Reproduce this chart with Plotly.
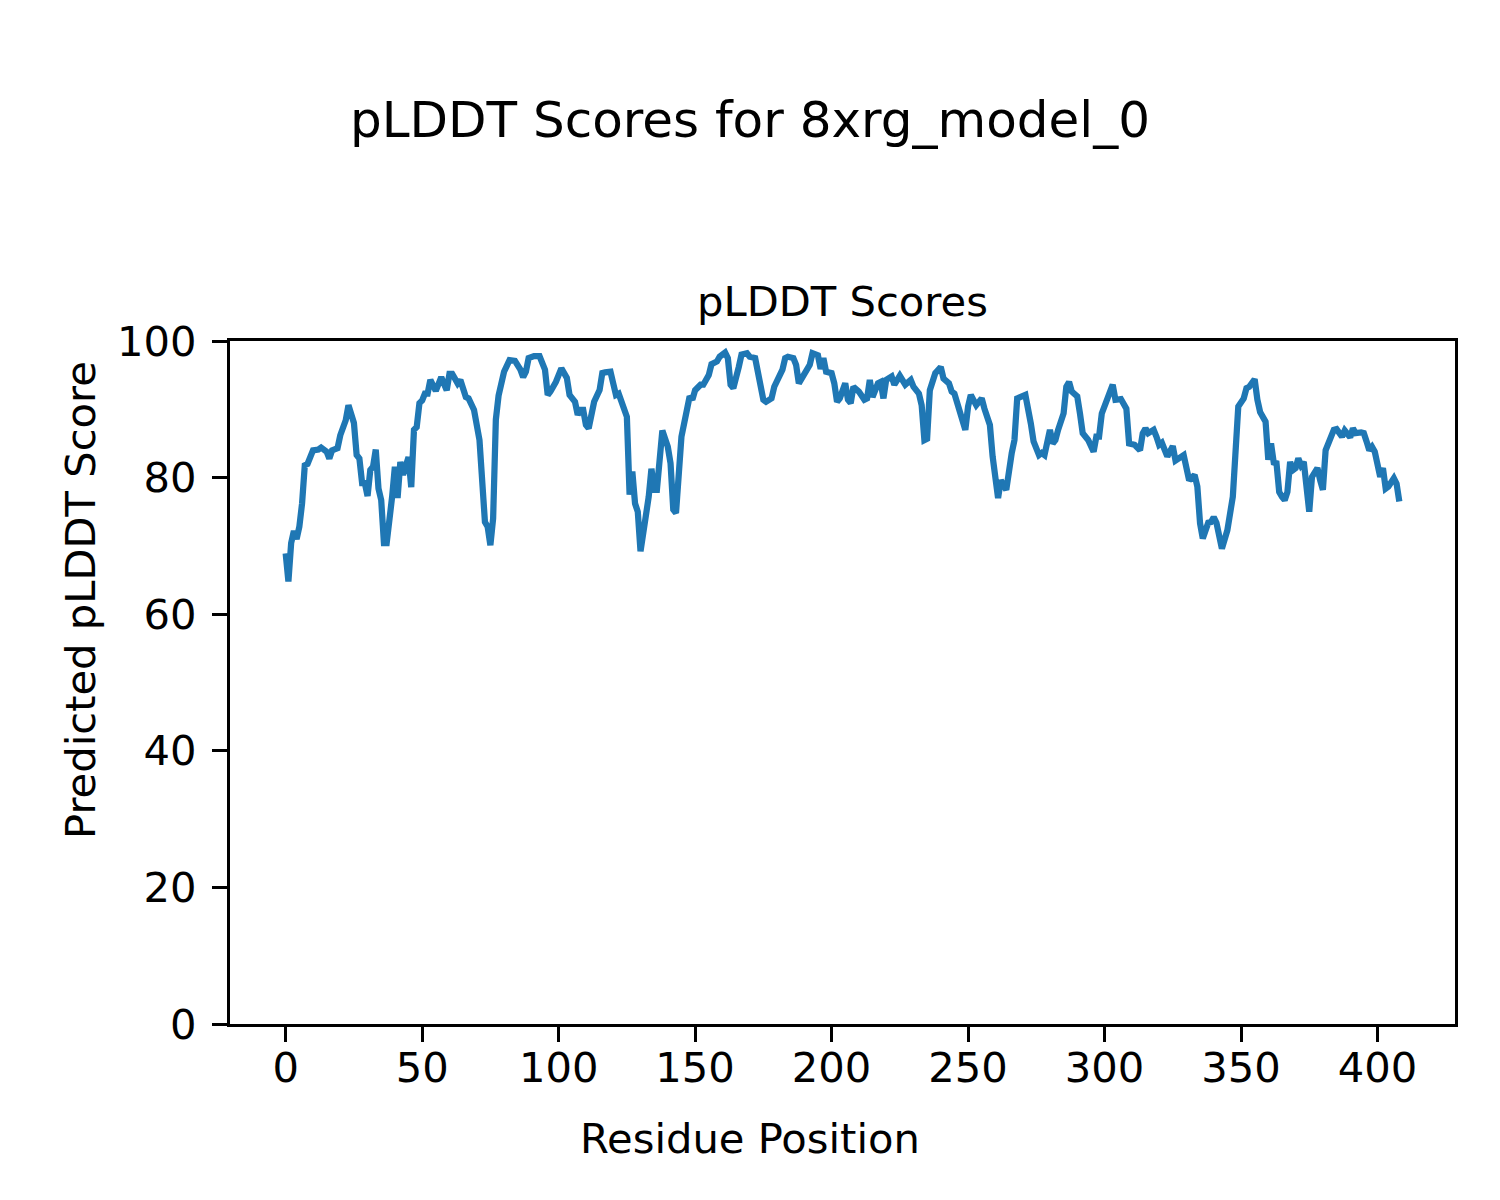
import plotly.graph_objects as go

# Residue positions (vertices) and pLDDT scores
residues = [0, 1, 2, 3, 4, 5, 6, 7, 8, 9, 10, 12, 13, 15, 16, 17, 19, 20, 22, 23,
            24, 25, 26, 27, 28, 29, 30, 31, 32, 33, 34, 35, 36, 37, 39, 40, 41, 42, 43, 45,
            46, 47, 48, 49, 50, 51, 52, 53, 55, 57, 59, 60, 61, 63, 64, 66, 67, 69, 71, 72,
            73, 74, 75, 76, 77, 78, 80, 82, 84, 86, 87, 88, 89, 91, 92, 93, 95, 96, 97, 99,
            101, 103, 104, 106, 107, 108, 109, 110, 111, 113, 115, 116, 117, 119, 120, 121, 122, 125, 126, 127,
            128, 129, 130, 131, 132, 133, 134, 135, 136, 137, 138, 140, 141, 142, 143, 145, 147, 148, 149, 150,
            152, 153, 155, 156, 158, 159, 161, 162, 163, 164, 166, 167, 169, 170, 172, 173, 175, 176, 178, 179,
            180, 182, 183, 184, 186, 187, 188, 190, 192, 193, 195, 196, 197, 198, 200, 201, 202, 203, 205, 206,
            207, 208, 210, 212, 213, 214, 215, 217, 218, 219, 220, 222, 223, 225, 227, 229, 230, 232, 233, 234,
            235, 236, 238, 240, 241, 243, 244, 245, 247, 248, 249, 250, 251, 253, 255, 256, 257, 258, 259, 261,
            262, 264, 266, 267, 268, 270, 271, 273, 274, 276, 277, 278, 280, 281, 282, 283, 285, 286, 287, 288,
            290, 291, 292, 294, 296, 297, 298, 299, 301, 303, 304, 306, 308, 309, 311, 313, 314, 315, 316, 318,
            319, 320, 321, 323, 325, 326, 329, 330, 331, 333, 334, 335, 336, 338, 339, 340, 341, 343, 344, 345,
            347, 348, 349, 351, 352, 353, 354, 355, 356, 357, 359, 360, 361, 362, 363, 364, 365, 366, 367, 368,
            369, 370, 371, 372, 373, 374, 375, 376, 377, 378, 379, 380, 381, 383, 384, 385, 387, 388, 390, 391,
            392, 394, 395, 396, 397, 398, 399, 401, 402, 403, 404, 406, 407, 408]

scores = [68.9, 64.8, 70.4, 72.2, 71.0, 72.8, 76.2, 81.8, 82.0, 83.3, 84.0, 84.1, 84.4, 83.8, 82.8, 84.0, 84.3, 86.2, 88.4, 90.6,
          89.6, 88.0, 83.3, 82.8, 79.2, 79.2, 77.3, 81.1, 81.6, 84.1, 78.4, 76.7, 70.4, 70.4, 77.2, 81.6, 77.0, 82.3, 80.4, 83.0,
          78.6, 87.0, 87.4, 90.9, 91.3, 92.3, 92.3, 94.3, 92.7, 94.7, 92.8, 95.2, 95.2, 93.8, 94.3, 91.8, 91.6, 89.9, 85.5, 80.1,
          73.5, 72.8, 70.1, 74.0, 88.5, 92.0, 95.5, 97.2, 97.1, 95.8, 94.7, 95.5, 97.5, 97.8, 97.7, 97.8, 95.8, 92.1, 92.6, 94.0,
          96.0, 94.6, 92.1, 91.1, 89.2, 89.9, 89.9, 87.7, 87.2, 91.1, 92.8, 95.3, 95.4, 95.5, 93.8, 92.1, 92.3, 88.9, 77.5, 80.9,
          76.2, 75.0, 69.2, 71.8, 75.7, 77.2, 81.3, 78.2, 78.2, 81.6, 86.9, 84.5, 82.1, 75.3, 74.8, 86.0, 90.4, 91.9, 91.4, 92.8,
          93.6, 93.6, 95.0, 96.6, 97.0, 97.7, 98.3, 97.5, 93.6, 93.1, 96.2, 98.0, 98.2, 97.7, 97.5, 95.3, 91.4, 91.1, 91.6, 93.3,
          94.3, 95.8, 97.5, 97.7, 97.5, 96.5, 93.8, 95.0, 96.5, 98.2, 97.9, 95.9, 97.5, 95.5, 95.3, 93.8, 91.1, 91.6, 93.8, 91.4,
          90.9, 93.3, 92.6, 91.4, 91.6, 94.3, 91.8, 93.8, 94.0, 91.6, 94.3, 94.8, 93.6, 94.9, 93.6, 94.3, 93.3, 92.3, 90.6, 85.5,
          85.7, 92.8, 95.3, 96.2, 94.5, 93.8, 92.6, 92.3, 89.6, 88.7, 87.0, 90.4, 92.1, 90.6, 91.6, 90.1, 88.7, 87.7, 83.1, 77.0,
          79.6, 78.2, 83.6, 85.5, 91.6, 92.1, 92.1, 87.9, 85.3, 83.3, 83.6, 83.3, 87.0, 85.0, 85.5, 87.0, 89.4, 93.3, 94.0, 92.6,
          91.9, 89.4, 86.5, 85.5, 83.8, 86.0, 86.0, 89.4, 91.6, 93.6, 91.4, 91.5, 90.1, 85.0, 84.8, 84.0, 86.5, 87.2, 86.5, 87.0,
          86.0, 84.8, 85.1, 83.1, 84.6, 82.5, 83.3, 80.9, 79.6, 80.4, 78.7, 73.3, 71.1, 73.4, 73.5, 74.2, 73.4, 69.6, 70.9, 72.3,
          77.2, 82.6, 90.4, 91.6, 93.1, 93.3, 94.0, 94.4, 91.4, 89.6, 88.2, 82.6, 85.0, 82.2, 82.1, 77.9, 77.2, 76.7, 77.9, 82.3,
          81.1, 81.4, 82.8, 81.8, 82.3, 78.2, 75.0, 80.1, 80.9, 81.4, 79.6, 78.2, 84.0, 86.0, 87.0, 87.1, 86.0, 86.9, 85.9, 87.2,
          86.5, 86.6, 86.5, 85.3, 84.0, 84.5, 83.8, 80.1, 81.4, 78.4, 78.7, 79.9, 79.1, 76.5]

x_ticks = [0, 50, 100, 150, 200, 250, 300, 350, 400]
y_ticks = [0, 20, 40, 60, 80, 100]

FONT = "DejaVu Sans"
OFF = 8  # default page body margin
L, R, T, B = 230 - OFF, 45, 341 - OFF, 176
W, H = 1500 - OFF, 1200 - OFF
PW, PH = W - L - R, H - T - B


def px(xp):
    return (xp - OFF - L) / PW


def py(yp):
    return (T + PH - (yp - OFF)) / PH


fig = go.Figure()
fig.add_trace(go.Scatter(x=residues, y=scores, mode="lines",
                         line=dict(color="#1f77b4", width=6.25),
                         showlegend=False))

axis_common = dict(showgrid=False, zeroline=False, showline=True, mirror=True,
                   linecolor="black", linewidth=3.3, ticks="outside", ticklen=15,
                   tickwidth=3.3, tickcolor="black",
                   tickfont=dict(family=FONT, size=41.67, color="black"))

fig.update_xaxes(range=[-20.4, 428.4], tickvals=x_ticks, ticklabelstandoff=-10, **axis_common)
fig.update_yaxes(range=[0, 100], tickvals=y_ticks, ticklabelstandoff=7, **axis_common)

annotations = [
    dict(text="pLDDT Scores for 8xrg_model_0", x=px(750), y=py(120), xref="paper", yref="paper",
         xanchor="center", yanchor="middle", showarrow=False,
         font=dict(family=FONT, size=50, color="black")),
    dict(text="pLDDT Scores", x=0.5, y=py(302), xref="paper", yref="paper",
         xanchor="center", yanchor="middle", showarrow=False,
         font=dict(family=FONT, size=41.67, color="black")),
    dict(text="Residue Position", x=px(750), y=py(1138), xref="paper", yref="paper",
         xanchor="center", yanchor="middle", showarrow=False,
         font=dict(family=FONT, size=41.67, color="black")),
    dict(text="Predicted pLDDT Score", x=px(80), y=py(600), xref="paper", yref="paper",
         xanchor="center", yanchor="middle", showarrow=False, textangle=-90,
         font=dict(family=FONT, size=41.67, color="black")),
]

fig.update_layout(width=W, height=H, margin=dict(l=L, r=R, t=T, b=B, pad=0),
                  paper_bgcolor="white", plot_bgcolor="white",
                  annotations=annotations)

fig.write_html("out.html")
